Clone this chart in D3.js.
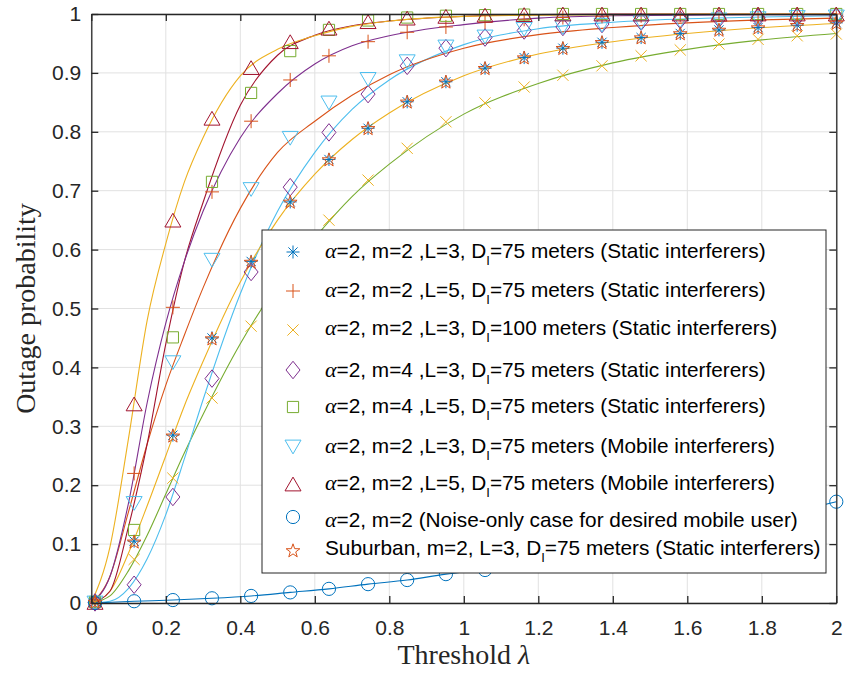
<!DOCTYPE html>
<html lang="en">
<head>
<meta charset="UTF-8">
<title>Outage probability vs threshold</title>
<style>
  body { margin: 0; background: #fff; }
  svg { display: block; }
  .tick text { font-family: "Liberation Sans", Arial, sans-serif; font-size: 21px; fill: #262626; }
</style>
</head>
<body>
<div id="chart"></div>
<script src="https://d3js.org/d3.v7.min.js"></script>
<script>

// ---- data ----
// threshold values of the simulated points (markers)
const xSim = [0.01, 0.115, 0.219, 0.324, 0.429, 0.534, 0.638, 0.743, 0.848, 0.952,
              1.057, 1.162, 1.266, 1.371, 1.476, 1.581, 1.685, 1.790, 1.895, 2.0];

const staticM2L3  = [0.002, 0.105, 0.285, 0.450, 0.580, 0.681, 0.753, 0.806, 0.851, 0.885,
                     0.908, 0.926, 0.942, 0.952, 0.960, 0.967, 0.973, 0.977, 0.981, 0.985];
const staticM2L5  = [0.003, 0.220, 0.502, 0.698, 0.818, 0.888, 0.929, 0.953, 0.969, 0.978,
                     0.986, 0.991, 0.994, 0.996, 0.997, 0.998, 0.999, 0.999, 1.0, 1.0];
const static100   = [0.001, 0.074, 0.212, 0.348, 0.470, 0.570, 0.650, 0.718, 0.772, 0.817,
                     0.849, 0.876, 0.896, 0.912, 0.929, 0.939, 0.949, 0.957, 0.963, 0.966];
const staticM4L3  = [0.001, 0.031, 0.180, 0.381, 0.562, 0.706, 0.799, 0.864, 0.912, 0.942,
                     0.960, 0.972, 0.978, 0.983, 0.987, 0.990, 0.992, 0.994, 0.995, 0.996];
const staticM4L5  = [0.002, 0.124, 0.451, 0.715, 0.866, 0.937, 0.973, 0.989, 0.994, 0.997,
                     0.998, 0.999, 1.0, 1.0, 1.0, 1.0, 1.0, 1.0, 1.0, 1.0];
const mobileM2L3  = [0.000, 0.169, 0.408, 0.582, 0.702, 0.789, 0.849, 0.889, 0.919, 0.944,
                     0.961, 0.974, 0.977, 0.981, 0.985, 0.988, 0.990, 0.992, 0.994, 0.995];
const mobileM2L5  = [0.001, 0.338, 0.650, 0.823, 0.909, 0.953, 0.976, 0.987, 0.993, 0.996,
                     0.998, 0.999, 1.0, 1.0, 1.0, 1.0, 1.0, 1.0, 1.0, 1.0];
const noiseOnly   = [0.000, 0.003, 0.005, 0.008, 0.012, 0.018, 0.024, 0.032, 0.039, 0.049,
                     0.056, 0.066, 0.077, 0.089, 0.101, 0.114, 0.127, 0.141, 0.156, 0.172];
const suburban    = [0.001, 0.103, 0.283, 0.448, 0.578, 0.680, 0.752, 0.805, 0.850, 0.884,
                     0.907, 0.925, 0.941, 0.951, 0.959, 0.966, 0.972, 0.976, 0.980, 0.984];

// analytical curves (solid lines), sampled from the figure
const xTheory = [0, 0.05, 0.1, 0.15, 0.2, 0.25, 0.3, 0.4, 0.5, 0.6, 0.7, 0.8, 1.0, 1.2, 1.4, 1.6, 1.8, 2.0];
const curveYellowA = [0, 0.095, 0.28, 0.48, 0.61, 0.715, 0.79, 0.895, 0.94, 0.963, 0.979, 0.988, 0.996, 0.998, 0.999, 1, 1, 1];
const curvePurple  = [0, 0.045, 0.17, 0.34, 0.475, 0.58, 0.665, 0.79, 0.865, 0.915, 0.946, 0.963, 0.982, 0.993, 0.997, 0.998, 0.999, 0.999];
const curveDarkRed = [0, 0.02, 0.13, 0.27, 0.44, 0.58, 0.68, 0.845, 0.93, 0.964, 0.98, 0.988, 0.996, 0.999, 1, 1, 1, 1];
const curveOrange  = [0, 0.045, 0.155, 0.27, 0.37, 0.455, 0.535, 0.67, 0.765, 0.818, 0.862, 0.897, 0.942, 0.965, 0.977, 0.985, 0.99, 0.993];
const curveYellowB = [0, 0.02, 0.085, 0.165, 0.25, 0.335, 0.41, 0.545, 0.65, 0.728, 0.787, 0.832, 0.895, 0.932, 0.953, 0.967, 0.977, 0.984];
const curveCyan    = [0, 0.003, 0.025, 0.075, 0.15, 0.245, 0.345, 0.525, 0.665, 0.765, 0.838, 0.888, 0.948, 0.975, 0.986, 0.992, 0.995, 0.997];
const curveGreen   = [0, 0.012, 0.055, 0.115, 0.185, 0.255, 0.32, 0.44, 0.54, 0.62, 0.69, 0.745, 0.83, 0.882, 0.917, 0.94, 0.956, 0.967];

const xTicks = [0, 0.2, 0.4, 0.6, 0.8, 1, 1.2, 1.4, 1.6, 1.8, 2];
const yTicks = [0, 0.1, 0.2, 0.3, 0.4, 0.5, 0.6, 0.7, 0.8, 0.9, 1];

// MATLAB default colour order
const C = {blue: "#0072BD", orange: "#D95319", yellow: "#EDB120", purple: "#7E2F8E",
           green: "#77AC30", cyan: "#4DBEEE", red: "#A2142F"};

// ---- marker shapes (size arg = half width in px) ----
const shapes = {
  asterisk: {draw(c, r) {
    const d = r * 0.7071;
    c.moveTo(-r, 0); c.lineTo(r, 0); c.moveTo(0, -r); c.lineTo(0, r);
    c.moveTo(-d, -d); c.lineTo(d, d); c.moveTo(-d, d); c.lineTo(d, -d);
  }},
  plus: {draw(c, r) { c.moveTo(-r, 0); c.lineTo(r, 0); c.moveTo(0, -r); c.lineTo(0, r); }},
  cross: {draw(c, r) { c.moveTo(-r, -r); c.lineTo(r, r); c.moveTo(-r, r); c.lineTo(r, -r); }},
  diamond: {draw(c, r) {
    c.moveTo(0, -r * 1.25); c.lineTo(r, 0); c.lineTo(0, r * 1.25); c.lineTo(-r, 0); c.closePath();
  }},
  square: {draw(c, r) { c.rect(-r, -r, 2 * r, 2 * r); }},
  triDown: {draw(c, r) { const h = r * 0.86; c.moveTo(-r, -h); c.lineTo(r, -h); c.lineTo(0, h); c.closePath(); }},
  triUp: {draw(c, r) { const h = r * 0.86; c.moveTo(-r, h); c.lineTo(r, h); c.lineTo(0, -h); c.closePath(); }},
  circle: {draw(c, r) { c.moveTo(r, 0); c.arc(0, 0, r, 0, 2 * Math.PI); }},
  star: {draw(c, r) {
    for (let i = 0; i < 10; i++) {
      const rad = i % 2 ? r * 0.4 : r;
      const a = -Math.PI / 2 + i * Math.PI / 5;
      const px = rad * Math.cos(a), py = rad * Math.sin(a);
      if (i === 0) c.moveTo(px, py); else c.lineTo(px, py);
    }
    c.closePath();
  }}
};

const markerSeries = [
  {vals: staticM2L3, color: C.blue,   shape: "asterisk", r: 6.5,
   pre: "α", text: "=2, m=2 ,L=3, D", sub: "I", post: "=75 meters (Static interferers)"},
  {vals: staticM2L5, color: C.orange, shape: "plus", r: 7,
   pre: "α", text: "=2, m=2 ,L=5, D", sub: "I", post: "=75 meters (Static interferers)"},
  {vals: static100,  color: C.yellow, shape: "cross", r: 5.6,
   pre: "α", text: "=2, m=2 ,L=3, D", sub: "I", post: "=100 meters (Static interferers)"},
  {vals: staticM4L3, color: C.purple, shape: "diamond", r: 7,
   pre: "α", text: "=2, m=4 ,L=3, D", sub: "I", post: "=75 meters (Static interferers)"},
  {vals: staticM4L5, color: C.green,  shape: "square", r: 5.6,
   pre: "α", text: "=2, m=4 ,L=5, D", sub: "I", post: "=75 meters (Static interferers)"},
  {vals: mobileM2L3, color: C.cyan,   shape: "triDown", r: 8,
   pre: "α", text: "=2, m=2 ,L=3, D", sub: "I", post: "=75 meters (Mobile interferers)"},
  {vals: mobileM2L5, color: C.red,    shape: "triUp", r: 8,
   pre: "α", text: "=2, m=2 ,L=5, D", sub: "I", post: "=75 meters (Mobile interferers)"},
  {vals: noiseOnly,  color: C.blue,   shape: "circle", r: 6.6,
   pre: "α", text: "=2, m=2 (Noise-only case for desired mobile user)", sub: "", post: ""},
  {vals: suburban,   color: C.orange, shape: "star", r: 7.2,
   pre: "", text: "Suburban, m=2, L=3, D", sub: "I", post: "=75 meters (Static interferers)"}
];

const theoryCurves = [
  {vals: curveGreen,   color: C.green},
  {vals: curveCyan,    color: C.cyan},
  {vals: curveYellowB, color: C.yellow},
  {vals: curveOrange,  color: C.orange},
  {vals: curveDarkRed, color: C.red},
  {vals: curvePurple,  color: C.purple},
  {vals: curveYellowA, color: C.yellow}
];

// ---- layout ----
const W = 845, H = 675;
const plot = {left: 91.3, right: 836.3, top: 14, bottom: 603};
const axisColor = "#262626";

const svg = d3.select("#chart").append("svg")
  .attr("width", W).attr("height", H)
  .style("background", "#fff");

const x = d3.scaleLinear().domain([0, 2]).range([plot.left, plot.right]);
const y = d3.scaleLinear().domain([0, 1]).range([plot.bottom, plot.top]);

// grid
const grid = svg.append("g").attr("stroke", "#e1e1e1").attr("stroke-width", 1);
grid.selectAll(".gx").data(xTicks).enter().append("line")
  .attr("x1", d => x(d)).attr("x2", d => x(d))
  .attr("y1", plot.top).attr("y2", plot.bottom);
grid.selectAll(".gy").data(yTicks).enter().append("line")
  .attr("y1", d => y(d)).attr("y2", d => y(d))
  .attr("x1", plot.left).attr("x2", plot.right);

// theory lines
const lineGen = d3.line()
  .x((d, i) => x(xTheory[i]))
  .y(d => y(d))
  .curve(d3.curveMonotoneX);

svg.append("g").selectAll("path")
  .data(theoryCurves).enter().append("path")
  .attr("d", d => lineGen(d.vals))
  .attr("fill", "none")
  .attr("stroke", d => d.color)
  .attr("stroke-width", 1.1);

// noise-only line goes through its own markers
svg.append("path")
  .attr("d", d3.line().x((d, i) => x(xSim[i])).y(d => y(d)).curve(d3.curveMonotoneX)(noiseOnly))
  .attr("fill", "none")
  .attr("stroke", C.blue)
  .attr("stroke-width", 1.1);

// markers
markerSeries.forEach(s => {
  const sym = d3.symbol().type(shapes[s.shape]).size(s.r);
  svg.append("g").selectAll("path")
    .data(s.vals).enter().append("path")
    .attr("transform", (d, i) => `translate(${x(xSim[i])},${y(d)})`)
    .attr("d", sym)
    .attr("fill", "none")
    .attr("stroke", s.color)
    .attr("stroke-width", 1);
});

// axes (ticks inside, box on)
function styleAxis(g) {
  g.select(".domain").attr("stroke", axisColor).attr("stroke-width", 1.3);
  g.selectAll(".tick line").attr("stroke", axisColor).attr("stroke-width", 1.3);
}
const fmt = d3.format("~g");

svg.append("g").attr("transform", `translate(0,${plot.bottom})`)
  .call(d3.axisBottom(x).tickValues(xTicks).tickSize(-7).tickSizeOuter(0).tickPadding(17).tickFormat(fmt))
  .call(styleAxis);
svg.append("g").attr("transform", `translate(${plot.left},0)`)
  .call(d3.axisLeft(y).tickValues(yTicks).tickSize(-7).tickSizeOuter(0).tickPadding(10).tickFormat(fmt))
  .call(styleAxis);
svg.append("g").attr("transform", `translate(0,${plot.top})`)
  .call(d3.axisTop(x).tickValues(xTicks).tickSize(-7).tickSizeOuter(0).tickFormat(""))
  .call(styleAxis);
svg.append("g").attr("transform", `translate(${plot.right},0)`)
  .call(d3.axisRight(y).tickValues(yTicks).tickSize(-7).tickSizeOuter(0).tickFormat(""))
  .call(styleAxis);
svg.selectAll(".tick text").attr("fill", axisColor);

// axis labels
svg.append("text")
  .attr("x", (plot.left + plot.right) / 2).attr("y", 664)
  .attr("text-anchor", "middle")
  .style("font-family", "'Liberation Serif', 'Times New Roman', serif")
  .style("font-size", "28px").attr("fill", axisColor)
  .text("Threshold ")
  .append("tspan").style("font-style", "italic").text("λ");

svg.append("text")
  .attr("transform", `translate(35,${(plot.top + plot.bottom) / 2}) rotate(-90)`)
  .attr("text-anchor", "middle")
  .style("font-family", "'Liberation Serif', 'Times New Roman', serif")
  .style("font-size", "28px").attr("fill", axisColor)
  .text("Outage probability");

// legend
const legendBox = {x: 262, y: 230, w: 564, h: 343};
const legendMarkerY = [252, 291, 330, 370, 407, 447, 484, 517, 551];
const legendTextY   = [258, 297, 335, 377, 413, 453, 490, 527, 555];
const legend = svg.append("g");
legend.append("rect")
  .attr("x", legendBox.x).attr("y", legendBox.y)
  .attr("width", legendBox.w).attr("height", legendBox.h)
  .attr("fill", "#fff").attr("stroke", axisColor).attr("stroke-width", 1);

markerSeries.forEach((s, i) => {
  legend.append("path")
    .attr("transform", `translate(293,${legendMarkerY[i]})`)
    .attr("d", d3.symbol().type(shapes[s.shape]).size(s.r)())
    .attr("fill", "none").attr("stroke", s.color).attr("stroke-width", 1);

  const t = legend.append("text")
    .attr("x", 325).attr("y", legendTextY[i])
    .style("font-family", "'Liberation Sans', Arial, sans-serif")
    .style("font-size", "20.8px").attr("fill", "#000");
  if (s.pre) t.append("tspan")
    .style("font-family", "'Liberation Serif', serif").style("font-style", "italic")
    .style("font-size", "22px").text(s.pre);
  t.append("tspan").text(s.text);
  if (s.sub) {
    t.append("tspan").attr("dy", 7).style("font-size", "13px").text(s.sub);
    t.append("tspan").attr("dy", -7).text(s.post);
  }
});

</script>
</body>
</html>
